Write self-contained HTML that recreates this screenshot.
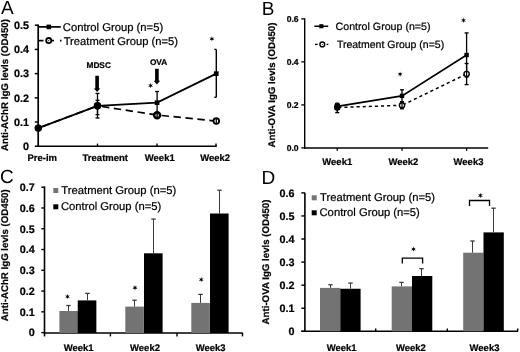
<!DOCTYPE html>
<html><head><meta charset="utf-8"><style>
html,body{margin:0;padding:0;background:#fff;}
body{width:520px;height:352px;overflow:hidden;}
svg text{stroke:#000;stroke-width:0.22px;}
svg{display:block;font-family:"Liberation Sans",sans-serif;filter:grayscale(1) blur(0.25px);text-rendering:geometricPrecision;}
</style></head><body>
<svg width="520" height="352" viewBox="0 0 520 352">
<rect width="520" height="352" fill="#fff"/>
<text x="1.0" y="14.2" font-size="19" text-anchor="start" fill="#000" style="stroke:none">A</text>
<line x1="38.2" y1="24.5" x2="38.2" y2="147.0" stroke="#000" stroke-width="1.7" />
<line x1="37.4" y1="146.25" x2="216.8" y2="146.25" stroke="#000" stroke-width="1.7" />
<line x1="34.8" y1="146.25" x2="38.2" y2="146.25" stroke="#000" stroke-width="1.5" />
<text x="29.0" y="150.05" font-size="10.8" font-weight="bold" text-anchor="end" fill="#000" >0</text>
<line x1="34.8" y1="122.03999999999999" x2="38.2" y2="122.03999999999999" stroke="#000" stroke-width="1.5" />
<text x="29.0" y="125.83999999999999" font-size="10.8" font-weight="bold" text-anchor="end" fill="#000" >0.1</text>
<line x1="34.8" y1="97.83" x2="38.2" y2="97.83" stroke="#000" stroke-width="1.5" />
<text x="29.0" y="101.63" font-size="10.8" font-weight="bold" text-anchor="end" fill="#000" >0.2</text>
<line x1="34.8" y1="73.62" x2="38.2" y2="73.62" stroke="#000" stroke-width="1.5" />
<text x="29.0" y="77.42" font-size="10.8" font-weight="bold" text-anchor="end" fill="#000" >0.3</text>
<line x1="34.8" y1="49.41" x2="38.2" y2="49.41" stroke="#000" stroke-width="1.5" />
<text x="29.0" y="53.209999999999994" font-size="10.8" font-weight="bold" text-anchor="end" fill="#000" >0.4</text>
<line x1="34.8" y1="25.200000000000003" x2="38.2" y2="25.200000000000003" stroke="#000" stroke-width="1.5" />
<text x="29.0" y="29.000000000000004" font-size="10.8" font-weight="bold" text-anchor="end" fill="#000" >0.5</text>
<line x1="97.5" y1="146" x2="97.5" y2="143.6" stroke="#000" stroke-width="1.4" />
<line x1="157" y1="146" x2="157" y2="143.6" stroke="#000" stroke-width="1.4" />
<line x1="216" y1="146" x2="216" y2="143.6" stroke="#000" stroke-width="1.4" />
<text x="0" y="0" font-size="9.7" font-weight="bold" text-anchor="middle" transform="translate(5.8,85) rotate(-90)" dominant-baseline="central">Anti-AChR IgG levls (OD450)</text>
<text x="42.2" y="161" font-size="9.5" font-weight="bold" text-anchor="middle" fill="#000" >Pre-im</text>
<text x="105.3" y="161" font-size="9.5" font-weight="bold" text-anchor="middle" fill="#000" >Treatment</text>
<text x="159.75" y="161" font-size="9.5" font-weight="bold" text-anchor="middle" fill="#000" >Week1</text>
<text x="215.2" y="161" font-size="9.5" font-weight="bold" text-anchor="middle" fill="#000" >Week2</text>
<line x1="38" y1="26.9" x2="60.8" y2="26.9" stroke="#000" stroke-width="1.7" />
<rect x="46.5" y="24.6" width="4.6" height="4.6" fill="#000"/>
<text x="62.8" y="30.7" font-size="11.25" text-anchor="start" fill="#000" >Control Group (n=5)</text>
<line x1="38" y1="40.6" x2="43.5" y2="40.6" stroke="#000" stroke-width="1.7" />
<line x1="51" y1="40.6" x2="54" y2="40.6" stroke="#000" stroke-width="1.7" />
<line x1="60" y1="40.6" x2="61.5" y2="40.6" stroke="#000" stroke-width="1.7" />
<circle cx="48.75" cy="40.6" r="2.6" fill="#fff" stroke="#000" stroke-width="1.8"/>
<circle cx="48.75" cy="40.6" r="0.6" fill="#000"/>
<text x="63.7" y="44.5" font-size="11.2" text-anchor="start" fill="#000" >Treatment Group (n=5)</text>
<text x="98.7" y="68.2" font-size="8.3" font-weight="bold" text-anchor="middle" fill="#000" >MDSC</text>
<path d="M95.3,75.8 L98.89999999999999,75.8 L98.89999999999999,88.4 L100.35,88.4 L97.1,91.9 L93.85,88.4 L95.3,88.4 Z" fill="#000"/>
<text x="158.6" y="65.1" font-size="8.3" font-weight="bold" text-anchor="middle" fill="#000" >OVA</text>
<path d="M155.1,68.8 L158.70000000000002,68.8 L158.70000000000002,80.8 L160.15,80.8 L156.9,84.6 L153.65,80.8 L155.1,80.8 Z" fill="#000"/>
<line x1="97.5" y1="93.4" x2="97.5" y2="118.0" stroke="#000" stroke-width="1.3" />
<line x1="95.5" y1="93.4" x2="99.5" y2="93.4" stroke="#000" stroke-width="1.3" />
<line x1="95.5" y1="118.0" x2="99.5" y2="118.0" stroke="#000" stroke-width="1.3" />
<line x1="97.5" y1="100.3" x2="97.5" y2="114.6" stroke="#000" stroke-width="1.3" />
<line x1="95.5" y1="100.3" x2="99.5" y2="100.3" stroke="#000" stroke-width="1.3" />
<line x1="95.5" y1="114.6" x2="99.5" y2="114.6" stroke="#000" stroke-width="1.3" />
<line x1="157.1" y1="91.5" x2="157.1" y2="114.0" stroke="#000" stroke-width="1.3" />
<line x1="155.1" y1="91.5" x2="159.1" y2="91.5" stroke="#000" stroke-width="1.3" />
<line x1="155.1" y1="114.0" x2="159.1" y2="114.0" stroke="#000" stroke-width="1.3" />
<line x1="216.3" y1="49.4" x2="216.3" y2="97.3" stroke="#000" stroke-width="1.4" />
<line x1="214.3" y1="49.4" x2="216.3" y2="49.4" stroke="#000" stroke-width="1.4" />
<line x1="214.3" y1="97.3" x2="216.3" y2="97.3" stroke="#000" stroke-width="1.4" />
<line x1="38.3" y1="128.0925" x2="97.5" y2="105.8193" stroke="#000" stroke-width="1.7" stroke-dasharray="7.4,4.6" stroke-dashoffset="-4.5"/>
<line x1="97.5" y1="105.8193" x2="157.1" y2="115.0191" stroke="#000" stroke-width="1.7" stroke-dasharray="7.4,4.6" stroke-dashoffset="-4.5"/>
<line x1="157.1" y1="115.0191" x2="216.3" y2="121.0716" stroke="#000" stroke-width="1.7" stroke-dasharray="7.4,4.6" stroke-dashoffset="-4.5"/>
<polyline points="38.3,128.0925 97.5,105.8193 157.1,102.672 216.3,73.62" fill="none" stroke="#000" stroke-width="1.8"/>
<circle cx="38.3" cy="128.0925" r="2.8" fill="#fff" stroke="#000" stroke-width="1.8"/>
<circle cx="97.5" cy="105.8193" r="2.8" fill="#fff" stroke="#000" stroke-width="1.8"/>
<circle cx="157.1" cy="115.2191" r="2.95" fill="#fff" stroke="#000" stroke-width="2.5"/>
<circle cx="216.3" cy="121.0716" r="2.8" fill="#fff" stroke="#000" stroke-width="1.8"/>
<line x1="216.3" y1="118.8" x2="216.3" y2="123.4" stroke="#000" stroke-width="1.2" />
<line x1="157.1" y1="112.0" x2="157.1" y2="117.5" stroke="#000" stroke-width="1.4" />
<circle cx="38.3" cy="128.0925" r="3.5" fill="#000"/>
<circle cx="97.5" cy="105.8193" r="3.6" fill="#000"/>
<rect x="154.7" y="100.372" width="4.7" height="4.6" fill="#000"/>
<rect x="213.9" y="71.32000000000001" width="4.7" height="4.6" fill="#000"/>
<polygon points="211.90,36.05 211.38,37.89 209.52,37.42 210.85,38.80 209.52,40.17 211.38,39.71 211.90,41.55 212.43,39.71 214.28,40.17 212.95,38.80 214.28,37.42 212.43,37.89" fill="#000"/>
<polygon points="150.60,82.85 150.07,84.69 148.22,84.22 149.55,85.60 148.22,86.97 150.07,86.51 150.60,88.35 151.12,86.51 152.98,86.97 151.65,85.60 152.98,84.22 151.12,84.69" fill="#000"/>
<text x="261.7" y="14.8" font-size="19" text-anchor="start" fill="#000" style="stroke:none">B</text>
<line x1="304.7" y1="18.2" x2="304.7" y2="148.6" stroke="#000" stroke-width="1.4" />
<line x1="304.0" y1="147.9" x2="488.2" y2="147.9" stroke="#000" stroke-width="1.5" />
<line x1="301.3" y1="147.9" x2="304.7" y2="147.9" stroke="#000" stroke-width="1.3" />
<text x="298.6" y="150.9" font-size="8.6" font-weight="bold" text-anchor="end" fill="#000" >0.0</text>
<line x1="301.3" y1="104.9" x2="304.7" y2="104.9" stroke="#000" stroke-width="1.3" />
<text x="298.6" y="107.9" font-size="8.6" font-weight="bold" text-anchor="end" fill="#000" >0.2</text>
<line x1="301.3" y1="61.900000000000006" x2="304.7" y2="61.900000000000006" stroke="#000" stroke-width="1.3" />
<text x="298.6" y="64.9" font-size="8.6" font-weight="bold" text-anchor="end" fill="#000" >0.4</text>
<line x1="301.3" y1="18.899999999999977" x2="304.7" y2="18.899999999999977" stroke="#000" stroke-width="1.3" />
<text x="298.6" y="21.899999999999977" font-size="8.6" font-weight="bold" text-anchor="end" fill="#000" >0.6</text>
<line x1="337.25" y1="147.9" x2="337.25" y2="150.8" stroke="#000" stroke-width="1.3" />
<line x1="402" y1="147.9" x2="402" y2="150.8" stroke="#000" stroke-width="1.3" />
<line x1="466.6" y1="147.9" x2="466.6" y2="150.8" stroke="#000" stroke-width="1.3" />
<text x="0" y="0" font-size="9.7" font-weight="bold" text-anchor="middle" transform="translate(272.6,85) rotate(-90)" dominant-baseline="central">Anti-OVA IgG levls (OD450)</text>
<text x="337.25" y="165.1" font-size="9.5" font-weight="bold" text-anchor="middle" fill="#000" >Week1</text>
<text x="403.4" y="165.1" font-size="9.5" font-weight="bold" text-anchor="middle" fill="#000" >Week2</text>
<text x="468.5" y="165.1" font-size="9.5" font-weight="bold" text-anchor="middle" fill="#000" >Week3</text>
<line x1="314.3" y1="26.25" x2="328.2" y2="26.25" stroke="#000" stroke-width="1.5" />
<rect x="319.3" y="24.2" width="4.1" height="4.1" fill="#000"/>
<text x="335.6" y="29.5" font-size="10.65" text-anchor="start" fill="#000" >Control Group (n=5)</text>
<line x1="315" y1="44.4" x2="317.7" y2="44.4" stroke="#000" stroke-width="1.4" />
<line x1="326.6" y1="44.4" x2="328.3" y2="44.4" stroke="#000" stroke-width="1.4" />
<circle cx="322.3" cy="44.4" r="2.4" fill="#fff" stroke="#000" stroke-width="1.4"/>
<circle cx="322.3" cy="44.4" r="0.5" fill="#000"/>
<text x="336.9" y="47.6" font-size="10.5" text-anchor="start" fill="#000" >Treatment Group (n=5)</text>
<line x1="337.25" y1="103.5" x2="337.25" y2="112.6" stroke="#000" stroke-width="1.4" />
<line x1="335.25" y1="103.5" x2="339.25" y2="103.5" stroke="#000" stroke-width="1.4" />
<line x1="335.25" y1="112.6" x2="339.25" y2="112.6" stroke="#000" stroke-width="1.4" />
<line x1="402" y1="89.8" x2="402" y2="101.8" stroke="#000" stroke-width="1.3" />
<line x1="400.0" y1="89.8" x2="404.0" y2="89.8" stroke="#000" stroke-width="1.3" />
<line x1="400.0" y1="101.8" x2="404.0" y2="101.8" stroke="#000" stroke-width="1.3" />
<line x1="402" y1="102" x2="402" y2="108.8" stroke="#000" stroke-width="1.3" />
<line x1="400.0" y1="102" x2="404.0" y2="102" stroke="#000" stroke-width="1.3" />
<line x1="400.0" y1="108.8" x2="404.0" y2="108.8" stroke="#000" stroke-width="1.3" />
<line x1="466.6" y1="32.9" x2="466.6" y2="77" stroke="#000" stroke-width="1.3" />
<line x1="464.6" y1="32.9" x2="468.6" y2="32.9" stroke="#000" stroke-width="1.3" />
<line x1="464.6" y1="77" x2="468.6" y2="77" stroke="#000" stroke-width="1.3" />
<line x1="466.6" y1="63.5" x2="466.6" y2="84.6" stroke="#000" stroke-width="1.3" />
<line x1="464.6" y1="63.5" x2="468.6" y2="63.5" stroke="#000" stroke-width="1.3" />
<line x1="464.6" y1="84.6" x2="468.6" y2="84.6" stroke="#000" stroke-width="1.3" />
<line x1="337.25" y1="107.48" x2="402" y2="105.33000000000001" stroke="#000" stroke-width="1.5" stroke-dasharray="3.1,3.0" stroke-dashoffset="-1.05"/>
<line x1="402" y1="105.33000000000001" x2="466.6" y2="73.94000000000001" stroke="#000" stroke-width="1.5" stroke-dasharray="3.1,3.0" stroke-dashoffset="-1.05"/>
<polyline points="337.25,106.405 402,95.87 466.6,55.02000000000001" fill="none" stroke="#000" stroke-width="1.6"/>
<circle cx="337.25" cy="107.48" r="2.6" fill="#fff" stroke="#000" stroke-width="1.4"/>
<line x1="337.25" y1="104.88000000000001" x2="337.25" y2="110.08" stroke="#000" stroke-width="1.2" />
<circle cx="402" cy="105.33000000000001" r="2.6" fill="#fff" stroke="#000" stroke-width="1.4"/>
<line x1="402" y1="102.73000000000002" x2="402" y2="107.93" stroke="#000" stroke-width="1.2" />
<circle cx="466.6" cy="73.94000000000001" r="2.6" fill="#fff" stroke="#000" stroke-width="1.4"/>
<line x1="466.6" y1="71.34000000000002" x2="466.6" y2="76.54" stroke="#000" stroke-width="1.2" />
<ellipse cx="337.25" cy="106.3" rx="3.0" ry="3.9" fill="#000"/>
<rect x="335.05" y="104.205" width="4.4" height="4.4" fill="#000"/>
<rect x="399.8" y="93.67" width="4.4" height="4.4" fill="#000"/>
<rect x="464.40000000000003" y="52.82000000000001" width="4.4" height="4.4" fill="#000"/>
<polygon points="400.10,71.45 399.58,73.29 397.72,72.83 399.05,74.20 397.72,75.58 399.58,75.11 400.10,76.95 400.62,75.11 402.48,75.58 401.15,74.20 402.48,72.83 400.62,73.29" fill="#000"/>
<polygon points="463.50,17.55 462.98,19.39 461.12,18.93 462.45,20.30 461.12,21.68 462.98,21.21 463.50,23.05 464.02,21.21 465.88,21.68 464.55,20.30 465.88,18.93 464.02,19.39" fill="#000"/>
<text x="0.05" y="183.3" font-size="19" text-anchor="start" fill="#000" style="stroke:none">C</text>
<line x1="44.5" y1="186.4" x2="44.5" y2="336.4" stroke="#000" stroke-width="1.6" />
<line x1="44" y1="333" x2="242.8" y2="333" stroke="#000" stroke-width="1.6" />
<line x1="41.3" y1="332.6" x2="44.5" y2="332.6" stroke="#000" stroke-width="1.4" />
<text x="34.8" y="336.40000000000003" font-size="10.8" font-weight="bold" text-anchor="end" fill="#000" >0</text>
<line x1="41.3" y1="311.83000000000004" x2="44.5" y2="311.83000000000004" stroke="#000" stroke-width="1.4" />
<text x="34.8" y="315.63000000000005" font-size="10.8" font-weight="bold" text-anchor="end" fill="#000" >0.1</text>
<line x1="41.3" y1="291.06" x2="44.5" y2="291.06" stroke="#000" stroke-width="1.4" />
<text x="34.8" y="294.86" font-size="10.8" font-weight="bold" text-anchor="end" fill="#000" >0.2</text>
<line x1="41.3" y1="270.29" x2="44.5" y2="270.29" stroke="#000" stroke-width="1.4" />
<text x="34.8" y="274.09000000000003" font-size="10.8" font-weight="bold" text-anchor="end" fill="#000" >0.3</text>
<line x1="41.3" y1="249.52000000000004" x2="44.5" y2="249.52000000000004" stroke="#000" stroke-width="1.4" />
<text x="34.8" y="253.32000000000005" font-size="10.8" font-weight="bold" text-anchor="end" fill="#000" >0.4</text>
<line x1="41.3" y1="228.75000000000003" x2="44.5" y2="228.75000000000003" stroke="#000" stroke-width="1.4" />
<text x="34.8" y="232.55000000000004" font-size="10.8" font-weight="bold" text-anchor="end" fill="#000" >0.5</text>
<line x1="41.3" y1="207.98000000000002" x2="44.5" y2="207.98000000000002" stroke="#000" stroke-width="1.4" />
<text x="34.8" y="211.78000000000003" font-size="10.8" font-weight="bold" text-anchor="end" fill="#000" >0.6</text>
<line x1="41.3" y1="187.21000000000004" x2="44.5" y2="187.21000000000004" stroke="#000" stroke-width="1.4" />
<text x="34.8" y="191.01000000000005" font-size="10.8" font-weight="bold" text-anchor="end" fill="#000" >0.7</text>
<line x1="110.4" y1="333" x2="110.4" y2="336.4" stroke="#000" stroke-width="1.4" />
<line x1="177" y1="333" x2="177" y2="336.4" stroke="#000" stroke-width="1.4" />
<line x1="242.5" y1="333" x2="242.5" y2="336.4" stroke="#000" stroke-width="1.4" />
<text x="0" y="0" font-size="9.7" font-weight="bold" text-anchor="middle" transform="translate(5.9,255.2) rotate(-90)" dominant-baseline="central">Anti-AChR IgG levls (OD450)</text>
<text x="78.6" y="350.8" font-size="9.5" font-weight="bold" text-anchor="middle" fill="#000" >Week1</text>
<text x="145" y="350.8" font-size="9.5" font-weight="bold" text-anchor="middle" fill="#000" >Week2</text>
<text x="210.6" y="350.8" font-size="9.5" font-weight="bold" text-anchor="middle" fill="#000" >Week3</text>
<rect x="53.3" y="188.0" width="5.0" height="5.0" fill="#737373"/>
<text x="61.3" y="193.7" font-size="11.25" text-anchor="start" fill="#000" >Treatment Group (n=5)</text>
<rect x="53.3" y="204.3" width="5.0" height="5.0" fill="#000"/>
<text x="60.9" y="210.0" font-size="11.25" text-anchor="start" fill="#000" >Control Group (n=5)</text>
<rect x="59.4" y="311.0" width="18.6" height="22.0" fill="#737373"/>
<rect x="125.3" y="306.6" width="18.6" height="26.399999999999977" fill="#737373"/>
<rect x="191.3" y="302.9" width="18.6" height="30.100000000000023" fill="#737373"/>
<rect x="77.75" y="300.4" width="18.6" height="32.60000000000002" fill="#000"/>
<rect x="144.0" y="253.3" width="18.6" height="79.69999999999999" fill="#000"/>
<rect x="210.0" y="213.5" width="18.6" height="119.5" fill="#000"/>
<line x1="68.5" y1="305.5" x2="68.5" y2="311.0" stroke="#3a3a3a" stroke-width="1.0" />
<line x1="66.3" y1="305.5" x2="70.7" y2="305.5" stroke="#3a3a3a" stroke-width="1.3" />
<line x1="134.5" y1="300.25" x2="134.5" y2="306.6" stroke="#3a3a3a" stroke-width="1.0" />
<line x1="132.3" y1="300.25" x2="136.7" y2="300.25" stroke="#3a3a3a" stroke-width="1.3" />
<line x1="200.5" y1="294.4" x2="200.5" y2="302.9" stroke="#3a3a3a" stroke-width="1.0" />
<line x1="198.3" y1="294.4" x2="202.7" y2="294.4" stroke="#3a3a3a" stroke-width="1.3" />
<line x1="87.5" y1="293.4" x2="87.5" y2="300.4" stroke="#3a3a3a" stroke-width="1.0" />
<line x1="85.3" y1="293.4" x2="89.7" y2="293.4" stroke="#3a3a3a" stroke-width="1.3" />
<line x1="153.5" y1="219.1" x2="153.5" y2="253.3" stroke="#3a3a3a" stroke-width="1.0" />
<line x1="151.3" y1="219.1" x2="155.7" y2="219.1" stroke="#3a3a3a" stroke-width="1.3" />
<line x1="219.5" y1="190.25" x2="219.5" y2="213.5" stroke="#3a3a3a" stroke-width="1.0" />
<line x1="217.3" y1="190.25" x2="221.7" y2="190.25" stroke="#3a3a3a" stroke-width="1.3" />
<polygon points="67.50,293.85 66.97,295.69 65.12,295.23 66.45,296.60 65.12,297.98 66.97,297.51 67.50,299.35 68.03,297.51 69.88,297.98 68.55,296.60 69.88,295.23 68.03,295.69" fill="#000"/>
<polygon points="135.00,285.00 134.47,286.84 132.62,286.38 133.95,287.75 132.62,289.12 134.47,288.66 135.00,290.50 135.53,288.66 137.38,289.12 136.05,287.75 137.38,286.38 135.53,286.84" fill="#000"/>
<polygon points="201.25,276.85 200.72,278.69 198.87,278.23 200.20,279.60 198.87,280.98 200.72,280.51 201.25,282.35 201.78,280.51 203.63,280.98 202.30,279.60 203.63,278.23 201.78,278.69" fill="#000"/>
<text x="261.6" y="183.6" font-size="19" text-anchor="start" fill="#000" style="stroke:none">D</text>
<line x1="304.9" y1="192.7" x2="304.9" y2="331.3" stroke="#000" stroke-width="1.6" />
<line x1="301.3" y1="331.3" x2="518.0" y2="331.3" stroke="#000" stroke-width="1.6" />
<line x1="301.3" y1="331.3" x2="304.9" y2="331.3" stroke="#000" stroke-width="1.4" />
<text x="294.6" y="335.1" font-size="10.8" font-weight="bold" text-anchor="end" fill="#000" >0</text>
<line x1="301.3" y1="308.23" x2="304.9" y2="308.23" stroke="#000" stroke-width="1.4" />
<text x="294.6" y="312.03000000000003" font-size="10.8" font-weight="bold" text-anchor="end" fill="#000" >0.1</text>
<line x1="301.3" y1="285.16" x2="304.9" y2="285.16" stroke="#000" stroke-width="1.4" />
<text x="294.6" y="288.96000000000004" font-size="10.8" font-weight="bold" text-anchor="end" fill="#000" >0.2</text>
<line x1="301.3" y1="262.09000000000003" x2="304.9" y2="262.09000000000003" stroke="#000" stroke-width="1.4" />
<text x="294.6" y="265.89000000000004" font-size="10.8" font-weight="bold" text-anchor="end" fill="#000" >0.3</text>
<line x1="301.3" y1="239.02" x2="304.9" y2="239.02" stroke="#000" stroke-width="1.4" />
<text x="294.6" y="242.82000000000002" font-size="10.8" font-weight="bold" text-anchor="end" fill="#000" >0.4</text>
<line x1="301.3" y1="215.95000000000002" x2="304.9" y2="215.95000000000002" stroke="#000" stroke-width="1.4" />
<text x="294.6" y="219.75000000000003" font-size="10.8" font-weight="bold" text-anchor="end" fill="#000" >0.5</text>
<line x1="301.3" y1="192.88000000000002" x2="304.9" y2="192.88000000000002" stroke="#000" stroke-width="1.4" />
<text x="294.6" y="196.68000000000004" font-size="10.8" font-weight="bold" text-anchor="end" fill="#000" >0.6</text>
<line x1="375.7" y1="331.3" x2="375.7" y2="328.6" stroke="#000" stroke-width="1.4" />
<line x1="447.3" y1="331.3" x2="447.3" y2="328.6" stroke="#000" stroke-width="1.4" />
<line x1="517.7" y1="331.3" x2="517.7" y2="328.6" stroke="#000" stroke-width="1.4" />
<text x="0" y="0" font-size="9.7" font-weight="bold" text-anchor="middle" transform="translate(266.1,262) rotate(-90)" dominant-baseline="central">Anti-OVA IgG levls (OD450)</text>
<text x="341.7" y="350.8" font-size="9.5" font-weight="bold" text-anchor="middle" fill="#000" >Week1</text>
<text x="410.9" y="350.8" font-size="9.5" font-weight="bold" text-anchor="middle" fill="#000" >Week2</text>
<text x="484.5" y="350.8" font-size="9.5" font-weight="bold" text-anchor="middle" fill="#000" >Week3</text>
<rect x="311.7" y="195.3" width="5.0" height="5.0" fill="#737373"/>
<text x="320.1" y="201.3" font-size="11.25" text-anchor="start" fill="#000" >Treatment Group (n=5)</text>
<rect x="311.7" y="210.3" width="5.0" height="5.0" fill="#000"/>
<text x="319.5" y="216.3" font-size="11.25" text-anchor="start" fill="#000" >Control Group (n=5)</text>
<rect x="320.0" y="287.9" width="20.3" height="43.400000000000034" fill="#737373"/>
<rect x="391.7" y="286.4" width="20.3" height="44.900000000000034" fill="#737373"/>
<rect x="463.2" y="252.7" width="20.3" height="78.60000000000002" fill="#737373"/>
<rect x="340.3" y="288.75" width="20.3" height="42.55000000000001" fill="#000"/>
<rect x="412.0" y="276.0" width="20.3" height="55.30000000000001" fill="#000"/>
<rect x="483.5" y="232.4" width="20.3" height="98.9" fill="#000"/>
<line x1="330.5" y1="284.75" x2="330.5" y2="287.9" stroke="#3a3a3a" stroke-width="1.0" />
<line x1="328.3" y1="284.75" x2="332.7" y2="284.75" stroke="#3a3a3a" stroke-width="1.3" />
<line x1="401.5" y1="282.4" x2="401.5" y2="286.4" stroke="#3a3a3a" stroke-width="1.0" />
<line x1="399.3" y1="282.4" x2="403.7" y2="282.4" stroke="#3a3a3a" stroke-width="1.3" />
<line x1="472.5" y1="241.0" x2="472.5" y2="252.7" stroke="#3a3a3a" stroke-width="1.0" />
<line x1="470.3" y1="241.0" x2="474.7" y2="241.0" stroke="#3a3a3a" stroke-width="1.3" />
<line x1="350.5" y1="283.1" x2="350.5" y2="288.75" stroke="#3a3a3a" stroke-width="1.0" />
<line x1="348.3" y1="283.1" x2="352.7" y2="283.1" stroke="#3a3a3a" stroke-width="1.3" />
<line x1="421.5" y1="268.7" x2="421.5" y2="276.0" stroke="#3a3a3a" stroke-width="1.0" />
<line x1="419.3" y1="268.7" x2="423.7" y2="268.7" stroke="#3a3a3a" stroke-width="1.3" />
<line x1="493.5" y1="208.2" x2="493.5" y2="232.4" stroke="#3a3a3a" stroke-width="1.0" />
<line x1="491.3" y1="208.2" x2="495.7" y2="208.2" stroke="#3a3a3a" stroke-width="1.3" />
<polyline points="402.3,263.6 402.3,258.2 422.6,258.2 422.6,263.6" fill="none" stroke="#000" stroke-width="1.3"/>
<polyline points="469.5,206 469.5,200.5 489.5,200.5 489.5,206" fill="none" stroke="#000" stroke-width="1.3"/>
<polygon points="413.50,246.35 412.98,248.19 411.12,247.72 412.45,249.10 411.12,250.47 412.98,250.01 413.50,251.85 414.02,250.01 415.88,250.47 414.55,249.10 415.88,247.72 414.02,248.19" fill="#000"/>
<polygon points="480.40,192.75 479.88,194.59 478.02,194.12 479.35,195.50 478.02,196.88 479.88,196.41 480.40,198.25 480.92,196.41 482.78,196.88 481.45,195.50 482.78,194.12 480.92,194.59" fill="#000"/>
</svg>
</body></html>
